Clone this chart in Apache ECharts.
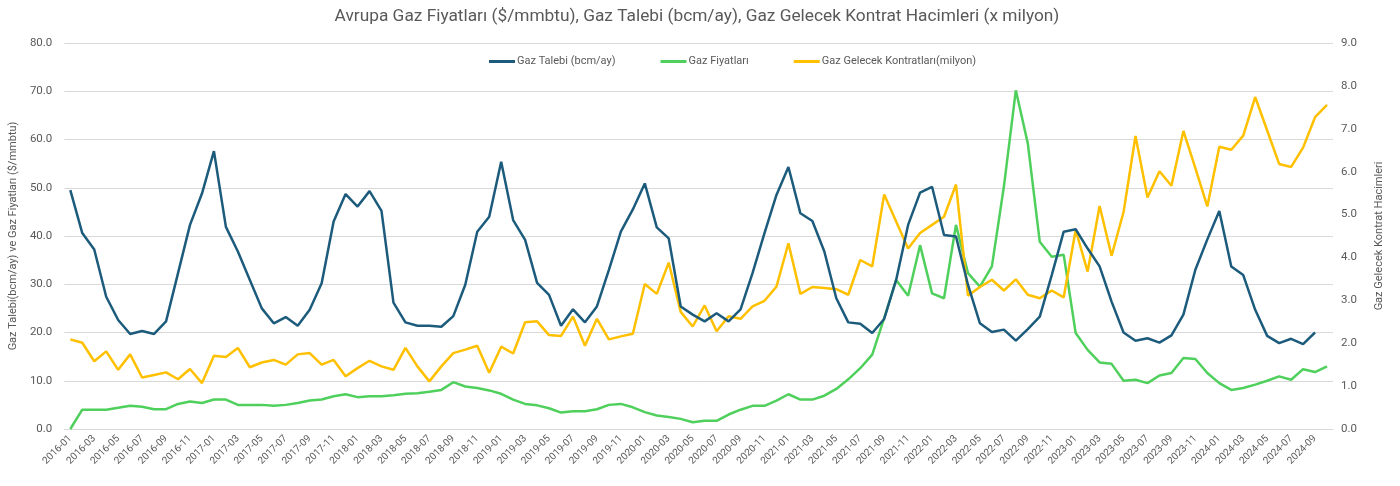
<!DOCTYPE html>
<html>
<head>
<meta charset="utf-8">
<script src="https://cdn.jsdelivr.net/npm/echarts@6/dist/echarts.min.js"></script>
<style>html,body{margin:0;padding:0;background:#fff}#c{width:1400px;height:486px}</style>
</head>
<body>
<div id="c"></div>
<script>
const categories = [
"2016-01","2016-02","2016-03","2016-04","2016-05","2016-06","2016-07","2016-08","2016-09","2016-10","2016-11","2016-12",
"2017-01","2017-02","2017-03","2017-04","2017-05","2017-06","2017-07","2017-08","2017-09","2017-10","2017-11","2017-12",
"2018-01","2018-02","2018-03","2018-04","2018-05","2018-06","2018-07","2018-08","2018-09","2018-10","2018-11","2018-12",
"2019-01","2019-02","2019-03","2019-04","2019-05","2019-06","2019-07","2019-08","2019-09","2019-10","2019-11","2019-12",
"2020-01","2020-02","2020-03","2020-04","2020-05","2020-06","2020-07","2020-08","2020-09","2020-10","2020-11","2020-12",
"2021-01","2021-02","2021-03","2021-04","2021-05","2021-06","2021-07","2021-08","2021-09","2021-10","2021-11","2021-12",
"2022-01","2022-02","2022-03","2022-04","2022-05","2022-06","2022-07","2022-08","2022-09","2022-10","2022-11","2022-12",
"2023-01","2023-02","2023-03","2023-04","2023-05","2023-06","2023-07","2023-08","2023-09","2023-10","2023-11","2023-12",
"2024-01","2024-02","2024-03","2024-04","2024-05","2024-06","2024-07","2024-08","2024-09","2024-10"
];
// Gaz Talebi (bcm/ay) - left axis
const gasDemand = [
49.5,40.6,37.2,27.4,22.6,19.7,20.3,19.7,22.3,32.3,42.3,48.8,
57.6,41.9,36.8,30.9,25.0,21.9,23.2,21.4,24.7,30.2,43.0,48.7,
46.1,49.3,45.2,26.2,22.1,21.4,21.4,21.2,23.4,29.9,40.9,44.0,
55.4,43.3,39.2,30.3,27.8,21.4,24.8,22.1,25.4,33.0,40.9,45.5,
50.9,41.8,39.5,25.4,23.7,22.3,24.0,22.3,24.8,32.3,40.6,48.5,
54.3,44.7,43.1,36.8,27.1,22.1,21.8,19.9,22.8,30.9,42.3,49.0,
50.2,40.2,39.9,29.9,21.9,20.1,20.6,18.3,20.7,23.3,31.9,40.9,
41.4,37.4,33.7,26.4,20.0,18.3,18.8,17.9,19.4,23.7,33.0,39.3,
45.2,33.7,31.9,24.7,19.3,17.8,18.7,17.6,20.0
];
// Gaz Fiyatları ($/mmbtu) - left axis
const gasPrice = [
0.0,4.0,4.0,4.0,4.4,4.8,4.6,4.1,4.1,5.2,5.7,5.4,
6.1,6.1,5.0,5.0,5.0,4.8,5.0,5.4,5.9,6.1,6.8,7.2,
6.6,6.8,6.8,7.0,7.3,7.4,7.7,8.1,9.7,8.8,8.5,8.0,
7.3,6.1,5.2,4.9,4.3,3.4,3.7,3.7,4.1,5.0,5.2,4.5,
3.5,2.8,2.5,2.1,1.4,1.7,1.7,3.0,4.0,4.8,4.8,5.9,
7.2,6.1,6.1,6.9,8.3,10.3,12.6,15.4,23.0,30.9,27.6,38.1,
28.1,27.1,42.3,32.3,29.5,33.7,50.2,70.2,59.2,38.8,35.7,36.1,
19.9,16.4,13.8,13.5,10.0,10.2,9.5,11.1,11.6,14.7,14.5,11.6,
9.5,8.1,8.5,9.2,10.0,10.9,10.2,12.4,11.8,13.0
];
// Gaz Gelecek Kontratları (milyon) - right axis
const futuresVolume = [
2.09,2.01,1.58,1.81,1.38,1.74,1.20,1.26,1.32,1.16,1.40,1.07,
1.71,1.68,1.89,1.44,1.55,1.61,1.50,1.74,1.77,1.50,1.61,1.23,
1.42,1.59,1.46,1.38,1.89,1.46,1.11,1.46,1.77,1.85,1.94,1.31,
1.92,1.76,2.49,2.51,2.19,2.17,2.62,1.94,2.57,2.09,2.16,2.22,
3.38,3.15,3.88,2.73,2.39,2.88,2.28,2.63,2.57,2.86,2.99,3.32,
4.33,3.15,3.31,3.29,3.26,3.13,3.94,3.79,5.47,4.84,4.21,4.57,
4.76,4.95,5.70,3.11,3.31,3.48,3.23,3.49,3.13,3.05,3.23,3.07,
4.64,3.67,5.20,4.04,5.06,6.83,5.40,6.01,5.67,6.95,6.08,5.19,
6.58,6.51,6.84,7.74,6.96,6.18,6.11,6.56,7.27,7.56
];
const seriesNames = ["Gaz Talebi (bcm/ay)", "Gaz Fiyatları", "Gaz Gelecek Kontratları(milyon)"];
const titleText = "Avrupa Gaz Fiyatları ($/mmbtu), Gaz Talebi (bcm/ay), Gaz Gelecek Kontrat Hacimleri (x milyon)";
const leftAxisName = "Gaz Talebi(bcm/ay) ve Gaz Fiyatları ($/mmbtu)";
const rightAxisName = "Gaz Gelecek Kontrat Hacimleri";

const FONT = "Roboto, 'Liberation Sans', sans-serif";
const TXT = "#595959";
const chart = echarts.init(document.getElementById('c'), null, {renderer: 'canvas'});
chart.setOption({
  animation: false,
  backgroundColor: '#ffffff',
  textStyle: {fontFamily: FONT},
  title: {
    text: titleText, left: 692, top: 3, textAlign: 'center',
    textStyle: {fontFamily: FONT, fontSize: 17.3, fontWeight: 'normal', color: TXT}
  },
  legend: {
    left: 484, top: 51, icon: 'rect', itemWidth: 26, itemHeight: 3, itemGap: 45,
    textStyle: {fontFamily: FONT, fontSize: 11, color: TXT, padding: [0,0,0,-3]},
    data: seriesNames
  },
  grid: {left: 61, right: 67, top: 43, bottom: 57, containLabel: false},
  xAxis: {
    type: 'category', data: categories, boundaryGap: true,
    axisLine: {show: true, lineStyle: {color: '#d9d9d9', width: 1}},
    axisTick: {show: false},
    axisLabel: {interval: 1, rotate: 45, fontSize: 10, color: TXT, fontFamily: FONT, margin: 8}
  },
  yAxis: [
    {
      type: 'value', min: 0, max: 80, interval: 10, position: 'left',
      name: leftAxisName, nameLocation: 'middle', nameGap: 40, nameRotate: 90,
      nameTextStyle: {fontSize: 11, color: TXT, fontFamily: FONT},
      axisLine: {show: false}, axisTick: {show: false},
      axisLabel: {fontSize: 11.5, color: TXT, margin: 12, formatter: v => v.toFixed(1)},
      splitLine: {show: true, lineStyle: {color: '#d9d9d9', width: 1}}
    },
    {
      type: 'value', min: 0, max: 9, interval: 1, position: 'right',
      name: rightAxisName, nameLocation: 'middle', nameGap: 41, nameRotate: 90,
      nameTextStyle: {fontSize: 11, color: TXT, fontFamily: FONT},
      axisLine: {show: false}, axisTick: {show: false},
      axisLabel: {fontSize: 11.5, color: TXT, margin: 8, formatter: v => v.toFixed(1)},
      splitLine: {show: false}
    }
  ],
  series: [
    {name: seriesNames[0], type: 'line', yAxisIndex: 0, data: gasDemand, showSymbol: false, symbol: 'none',
     lineStyle: {color: '#1c5b7c', width: 2.5}, itemStyle: {color: '#1c5b7c'}, z: 3},
    {name: seriesNames[1], type: 'line', yAxisIndex: 0, data: gasPrice, showSymbol: false, symbol: 'none',
     lineStyle: {color: '#4fd05c', width: 2.5}, itemStyle: {color: '#4fd05c'}, z: 2},
    {name: seriesNames[2], type: 'line', yAxisIndex: 1, data: futuresVolume, showSymbol: false, symbol: 'none',
     lineStyle: {color: '#ffc000', width: 2.5}, itemStyle: {color: '#ffc000'}, z: 2}
  ]
});
</script>
</body>
</html>
